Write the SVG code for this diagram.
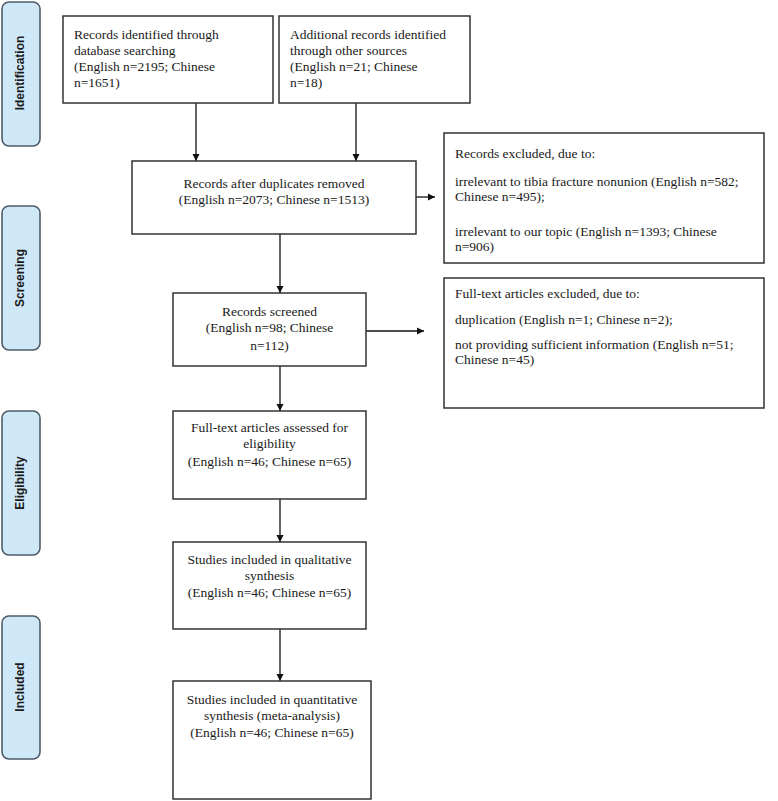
<svg xmlns="http://www.w3.org/2000/svg" width="778" height="801" viewBox="0 0 778 801">
<style>
.phase{fill:#cfe8f8;stroke:#4d5b68;stroke-width:1.6}
.box{fill:#ffffff;stroke:#333333;stroke-width:1.5}
.t{font-family:"Liberation Serif","Times New Roman",serif;font-size:13.5px;fill:#1a1a1a}
.c{text-anchor:middle}
.pl{font-family:"Liberation Sans",Arial,sans-serif;font-size:12px;font-weight:bold;fill:#1a1a1a;text-anchor:middle}
.conn{stroke:#111111;stroke-width:1.3;fill:none;marker-end:url(#ah)}
</style>
<defs>
<marker id="ah" markerWidth="8" markerHeight="8" refX="7" refY="4" orient="auto" markerUnits="userSpaceOnUse">
<path d="M0,0.5 L7,4 L0,7.5 Z" fill="#111111"/>
</marker>
</defs>
<rect width="778" height="801" fill="#ffffff"/>

<g id="phase-identification">
<rect class="phase" x="2" y="2" width="38" height="144" rx="7"/>
<text class="pl" transform="translate(24,73) rotate(-90)">Identification</text>
</g>
<g id="phase-screening">
<rect class="phase" x="2" y="206" width="38" height="144" rx="7"/>
<text class="pl" transform="translate(24,278) rotate(-90)">Screening</text>
</g>
<g id="phase-eligibility">
<rect class="phase" x="2" y="411" width="38" height="144" rx="7"/>
<text class="pl" transform="translate(24,483) rotate(-90)">Eligibility</text>
</g>
<g id="phase-included">
<rect class="phase" x="2" y="616" width="38" height="143" rx="7"/>
<text class="pl" transform="translate(24,687) rotate(-90)">Included</text>
</g>

<g id="connectors">
<line class="conn" x1="196" y1="103" x2="196" y2="161"/>
<line class="conn" x1="356" y1="103" x2="356" y2="161"/>
<line class="conn" x1="416" y1="197" x2="435" y2="197"/>
<line class="conn" x1="280" y1="234" x2="280" y2="293"/>
<line class="conn" x1="366" y1="331" x2="424" y2="331"/>
<line class="conn" x1="280" y1="366" x2="280" y2="411"/>
<line class="conn" x1="280" y1="499" x2="280" y2="542"/>
<line class="conn" x1="280" y1="629" x2="280" y2="681"/>
</g>

<g id="db-search">
<rect class="box" x="63" y="16" width="210" height="87"/>
<text class="t" x="74" y="39">Records identified through</text>
<text class="t" x="74" y="55">database searching</text>
<text class="t" x="74" y="71">(English n=2195; Chinese</text>
<text class="t" x="74" y="87">n=1651)</text>
</g>
<g id="other-sources">
<rect class="box" x="279" y="16" width="191" height="87"/>
<text class="t" x="290" y="39">Additional records identified</text>
<text class="t" x="290" y="55">through other sources</text>
<text class="t" x="290" y="71">(English n=21; Chinese</text>
<text class="t" x="290" y="87">n=18)</text>
</g>
<g id="after-duplicates">
<rect class="box" x="132" y="161" width="284" height="73"/>
<text class="t c" x="274" y="188">Records after duplicates removed</text>
<text class="t c" x="274" y="204">(English n=2073; Chinese n=1513)</text>
</g>
<g id="records-excluded">
<rect class="box" x="444" y="133" width="320" height="130"/>
<text class="t" x="455" y="158">Records excluded, due to:</text>
<text class="t" x="455" y="186">irrelevant to tibia fracture nonunion  (English n=582;</text>
<text class="t" x="455" y="201">Chinese n=495);</text>
<text class="t" x="455" y="236">irrelevant to our topic (English n=1393; Chinese</text>
<text class="t" x="455" y="251">n=906)</text>
</g>
<g id="records-screened">
<rect class="box" x="173" y="293" width="193" height="73"/>
<text class="t c" x="269.5" y="316">Records screened</text>
<text class="t c" x="269.5" y="332">(English n=98; Chinese</text>
<text class="t c" x="269.5" y="350">n=112)</text>
</g>
<g id="fulltext-excluded">
<rect class="box" x="444" y="278" width="320" height="130"/>
<text class="t" x="455" y="298">Full-text articles excluded, due to:</text>
<text class="t" x="455" y="324">duplication (English n=1; Chinese n=2);</text>
<text class="t" x="455" y="349">not providing sufficient information (English n=51;</text>
<text class="t" x="455" y="364">Chinese n=45)</text>
</g>
<g id="fulltext-assessed">
<rect class="box" x="173" y="411" width="193" height="88"/>
<text class="t c" x="269.5" y="432">Full-text articles assessed for</text>
<text class="t c" x="269.5" y="448">eligibility</text>
<text class="t c" x="269.5" y="466">(English n=46; Chinese n=65)</text>
</g>
<g id="qualitative">
<rect class="box" x="173" y="542" width="193" height="87"/>
<text class="t c" x="269.5" y="564">Studies included in qualitative</text>
<text class="t c" x="269.5" y="580">synthesis</text>
<text class="t c" x="269.5" y="597">(English n=46; Chinese n=65)</text>
</g>
<g id="quantitative">
<rect class="box" x="173" y="681" width="198" height="118"/>
<text class="t c" x="272" y="704">Studies included in quantitative</text>
<text class="t c" x="272" y="720">synthesis (meta-analysis)</text>
<text class="t c" x="272" y="737">(English n=46; Chinese n=65)</text>
</g>
</svg>
